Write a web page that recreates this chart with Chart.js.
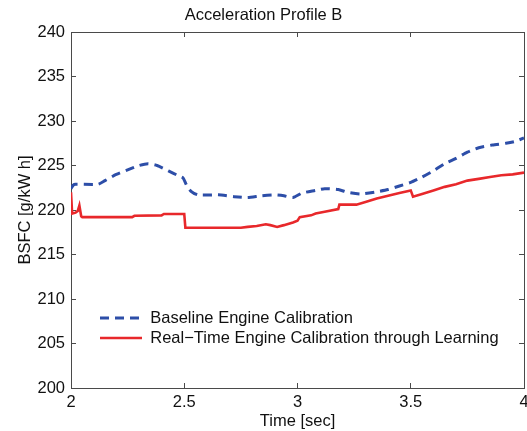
<!DOCTYPE html>
<html>
<head>
<meta charset="utf-8">
<script src="https://cdn.jsdelivr.net/npm/chart.js@4/dist/chart.umd.min.js"></script>
<style>
  html, body { margin: 0; padding: 0; background: #fff; }
  canvas { display: block; }
</style>
</head>
<body>
<canvas id="c" width="527" height="431"></canvas>
<script>
// ---- data ----
const baselineTime = [2.00, 2.01, 2.02, 2.12, 2.15, 2.20, 2.25, 2.30, 2.34, 2.38, 2.43, 2.47, 2.495, 2.51, 2.53, 2.56, 2.65, 2.72, 2.78, 2.84, 2.90, 2.94, 2.98, 3.02, 3.08, 3.12, 3.18, 3.22, 3.28, 3.34, 3.40, 3.45, 3.50, 3.55, 3.60, 3.65, 3.70, 3.75, 3.80, 3.86, 3.92, 3.96, 4.00];
const baselineBSFC = [222.4, 222.8, 222.9, 222.9, 223.3, 224.0, 224.5, 225.0, 225.2, 225.0, 224.4, 223.9, 223.6, 222.8, 222.1, 221.7, 221.7, 221.5, 221.4, 221.6, 221.7, 221.6, 221.4, 221.9, 222.2, 222.4, 222.3, 222.0, 221.8, 222.0, 222.3, 222.7, 223.1, 223.7, 224.4, 225.2, 225.8, 226.5, 227.0, 227.3, 227.5, 227.7, 228.1];

const learningTime = [2.00, 2.005, 2.02, 2.03, 2.037, 2.045, 2.05, 2.27, 2.28, 2.40, 2.41, 2.50, 2.505, 2.75, 2.78, 2.82, 2.86, 2.88, 2.91, 2.94, 2.98, 3.00, 3.01, 3.06, 3.08, 3.12, 3.18, 3.185, 3.26, 3.30, 3.35, 3.40, 3.45, 3.50, 3.51, 3.55, 3.60, 3.65, 3.70, 3.75, 3.80, 3.85, 3.90, 3.95, 4.00];
const learningBSFC = [222.0, 219.6, 219.7, 219.9, 220.5, 219.3, 219.2, 219.2, 219.35, 219.4, 219.55, 219.55, 218.0, 218.0, 218.1, 218.2, 218.4, 218.3, 218.1, 218.3, 218.6, 218.8, 219.2, 219.4, 219.6, 219.8, 220.1, 220.6, 220.6, 220.9, 221.3, 221.6, 221.9, 222.2, 221.5, 221.8, 222.2, 222.6, 222.9, 223.3, 223.5, 223.7, 223.9, 224.0, 224.2];

const seriesNames = ['Baseline Engine Calibration', 'Real\u2212Time Engine Calibration through Learning'];
const xTicks = [2, 2.5, 3, 3.5, 4];
const yTicks = [200, 205, 210, 215, 220, 225, 230, 235, 240];
const titleText = 'Acceleration Profile B';
const xTitle = 'Time [sec]';
const yTitle = 'BSFC [g/kW h]';

// ---- chart ----
const toXY = (xs, ys) => xs.map((x, i) => ({x: x, y: ys[i]}));
const FONT = "'Liberation Sans', Arial, Helvetica, sans-serif";
Chart.defaults.font.family = FONT;
Chart.defaults.color = '#1a1a1a';

const axisColor = '#4a4a4a';

const legendMover = {
  id: 'legendMover',
  afterLayout(chart) {
    const lg = chart.legend, ca = chart.chartArea;
    const w = 420, h = 60;
    lg.left = ca.left + 25.5;
    lg.top = ca.bottom - 81.75;
    lg.right = lg.left + w;
    lg.bottom = lg.top + h;
    lg.width = w;
    lg.height = h;
  }
};

const noPad = (s) => { s.paddingLeft = 0; s.paddingRight = 0; s.paddingTop = 0; s.paddingBottom = 0; };

new Chart(document.getElementById('c'), {
  type: 'line',
  data: {
    datasets: [
      {
        label: seriesNames[0],
        data: toXY(baselineTime, baselineBSFC),
        borderColor: '#2d4ea8',
        backgroundColor: '#2d4ea8',
        borderWidth: 3,
        borderDash: [9, 6],
        pointRadius: 0,
        tension: 0.2,
        fill: false
      },
      {
        label: seriesNames[1],
        data: toXY(learningTime, learningBSFC),
        borderColor: '#e8282b',
        backgroundColor: '#e8282b',
        borderWidth: 2.6,
        pointRadius: 0,
        tension: 0,
        fill: false
      }
    ]
  },
  options: {
    responsive: false,
    animation: false,
    devicePixelRatio: 1,
    layout: { padding: 0 },
    plugins: {
      tooltip: { enabled: false },
      title: {
        display: true,
        text: titleText,
        color: '#111',
        font: { size: 16.5, weight: 'normal', family: FONT },
        padding: { top: 5.1, bottom: 7.1 }
      },
      legend: {
        position: 'chartArea',
        align: 'start',
        labels: {
          usePointStyle: true,
          pointStyle: 'line',
          pointStyleWidth: 42,
          padding: 3.5,
          color: '#111',
          font: { size: 16.5, family: FONT },
          generateLabels: (chart) => {
            const items = Chart.defaults.plugins.legend.labels.generateLabels(chart);
            items.forEach((it) => {
              const ds = chart.data.datasets[it.datasetIndex];
              it.lineDash = ds.borderDash || [];
              it.lineWidth = ds.borderWidth;
              it.strokeStyle = ds.borderColor;
              it.fillStyle = ds.borderColor;
              it.pointStyle = 'line';
            });
            return items;
          }
        }
      }
    },
    scales: {
      x: {
        type: 'linear',
        position: 'bottom',
        min: 2, max: 4,
        afterBuildTicks: (s) => { s.ticks = xTicks.map(v => ({value: v})); },
        afterFit: (s) => { s.height = 43; noPad(s); },
        grid: { drawOnChartArea: false, drawTicks: true, tickLength: -5, color: axisColor },
        border: { display: true, color: axisColor, width: 1 },
        ticks: { padding: 10, color: '#111', font: { size: 16.5 }, maxRotation: 0, callback: (v) => String(v) },
        title: { display: true, text: xTitle, color: '#111', font: { size: 16.5 }, padding: { top: 0, bottom: 0 } }
      },
      x2: {
        type: 'linear',
        position: 'top',
        min: 2, max: 4,
        afterBuildTicks: (s) => { s.ticks = xTicks.map(v => ({value: v})); },
        afterFit: (s) => { s.height = 0; noPad(s); },
        grid: { drawOnChartArea: false, drawTicks: true, tickLength: -5, color: axisColor },
        border: { display: true, color: axisColor, width: 1 },
        ticks: { display: false }
      },
      y: {
        type: 'linear',
        position: 'left',
        min: 200, max: 240,
        afterBuildTicks: (s) => { s.ticks = yTicks.map(v => ({value: v})); },
        afterFit: (s) => { s.width = 71; noPad(s); },
        grid: { drawOnChartArea: false, drawTicks: true, tickLength: -5, color: axisColor },
        border: { display: true, color: axisColor, width: 1 },
        ticks: { padding: 11, color: '#111', font: { size: 16.5 }, callback: (v) => String(v) },
        title: { display: true, text: yTitle, color: '#111', font: { size: 16.5 }, padding: { top: 15.1, bottom: 0 } }
      },
      y2: {
        type: 'linear',
        position: 'right',
        min: 200, max: 240,
        afterBuildTicks: (s) => { s.ticks = yTicks.map(v => ({value: v})); },
        afterFit: (s) => { s.width = 3; noPad(s); },
        grid: { drawOnChartArea: false, drawTicks: true, tickLength: -5, color: axisColor },
        border: { display: true, color: axisColor, width: 1 },
        ticks: { display: false }
      }
    }
  },
  plugins: [legendMover]
});
</script>
</body>
</html>
